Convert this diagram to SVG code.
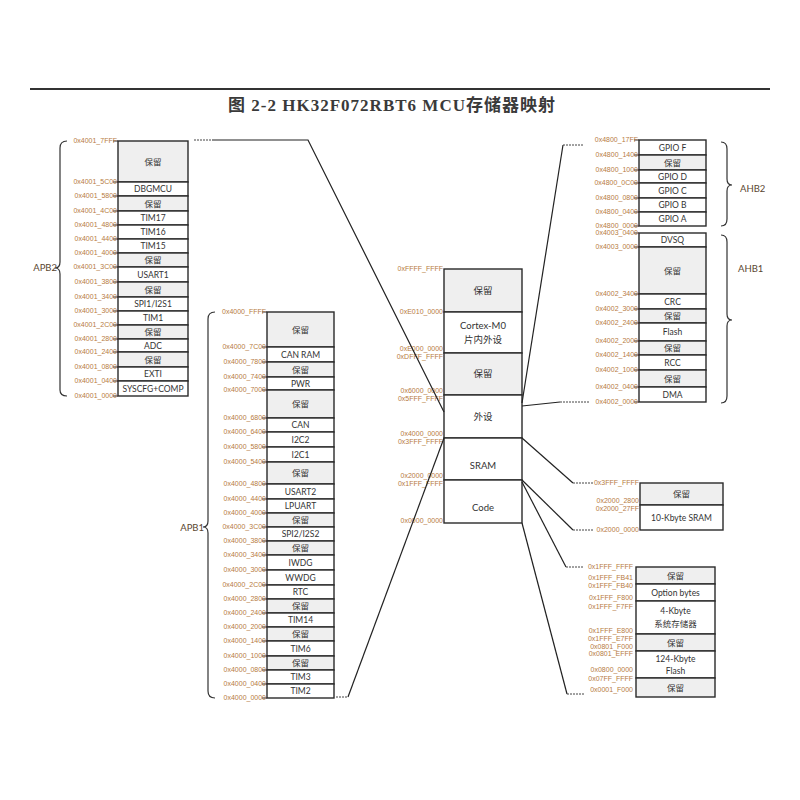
<svg xmlns="http://www.w3.org/2000/svg" width="800" height="800" viewBox="0 0 800 800">
<style>
.c{fill:#fff;stroke:#2a2a2a;stroke-width:1.4}
.r{fill:#efefef;stroke:#2a2a2a;stroke-width:1.4}
.t{font-family:Lato,"Noto Sans CJK SC",sans-serif;font-size:8.5px;fill:#333;text-anchor:middle}
.tb{font-family:Lato,"Noto Sans CJK SC",sans-serif;font-size:9.5px;fill:#333;text-anchor:middle}
.a{font-family:"Liberation Sans",sans-serif;font-size:7px;fill:#b77b3f;text-anchor:end}
.k{stroke:#2a2a2a;stroke-width:1}
.ln{stroke:#222;stroke-width:1.2;fill:none}
.ds{stroke:#444;stroke-width:1;stroke-dasharray:2 1;fill:none}
.br{stroke:#333;stroke-width:1.2;fill:none}
.g{font-family:Lato,"Noto Sans CJK SC",sans-serif;font-size:9.5px;fill:#5a4630}
</style>
<rect width="800" height="800" fill="#fff"/>
<line x1="30" y1="89" x2="770" y2="89" stroke="#333" stroke-width="2"/>
<text x="228" y="111" textLength="327" lengthAdjust="spacing" font-family="'Liberation Serif','Noto Sans CJK SC',serif" font-size="17" font-weight="bold" fill="#3a3a3a">图 2-2  HK32F072RBT6 MCU存储器映射</text>

<g id="apb2">
<path class="br" d="M67,141 Q60,141 60,148 L60,262 Q60,268 55,268 Q60,268 60,274 L60,390 Q60,396 67,396"/>
<text class="g" x="57" y="271" text-anchor="end">APB2</text>
<rect class="r" x="118" y="141" width="70" height="41"/><text class="t" x="153" y="165">保留</text>
<rect class="c" x="118" y="182" width="70" height="14"/><text class="t" x="153" y="192">DBGMCU</text>
<rect class="r" x="118" y="196" width="70" height="15"/><text class="t" x="153" y="206.5">保留</text>
<rect class="c" x="118" y="211" width="70" height="14"/><text class="t" x="153" y="221">TIM17</text>
<rect class="c" x="118" y="225" width="70" height="14"/><text class="t" x="153" y="235">TIM16</text>
<rect class="c" x="118" y="239" width="70" height="14"/><text class="t" x="153" y="249">TIM15</text>
<rect class="r" x="118" y="253" width="70" height="14"/><text class="t" x="153" y="263">保留</text>
<rect class="c" x="118" y="267" width="70" height="15"/><text class="t" x="153" y="277.5">USART1</text>
<rect class="r" x="118" y="282" width="70" height="15"/><text class="t" x="153" y="292.5">保留</text>
<rect class="c" x="118" y="297" width="70" height="14"/><text class="t" x="153" y="307">SPI1/I2S1</text>
<rect class="c" x="118" y="311" width="70" height="14"/><text class="t" x="153" y="321">TIM1</text>
<rect class="r" x="118" y="325" width="70" height="14"/><text class="t" x="153" y="335">保留</text>
<rect class="c" x="118" y="339" width="70" height="13"/><text class="t" x="153" y="348.5">ADC</text>
<rect class="r" x="118" y="352" width="70" height="15"/><text class="t" x="153" y="362.5">保留</text>
<rect class="c" x="118" y="367" width="70" height="14"/><text class="t" x="153" y="377">EXTI</text>
<rect class="c" x="118" y="381" width="70" height="15"/><text class="t" x="153" y="391.5">SYSCFG+COMP</text>
<g class="k"><path d="M113,141H118M113,182H118M113,196H118M113,211H118M113,225H118M113,239H118M113,253H118M113,267H118M113,282H118M113,297H118M113,311H118M113,325H118M113,339H118M113,352H118M113,367H118M113,381H118M113,396H118"/></g>
<text class="a" x="117" y="143.4">0x4001_7FFF</text>
<text class="a" x="117" y="184.4">0x4001_5C00</text>
<text class="a" x="117" y="198.4">0x4001_5800</text>
<text class="a" x="117" y="213.4">0x4001_4C00</text>
<text class="a" x="117" y="227.4">0x4001_4800</text>
<text class="a" x="117" y="241.4">0x4001_4400</text>
<text class="a" x="117" y="255.4">0x4001_4000</text>
<text class="a" x="117" y="269.4">0x4001_3C00</text>
<text class="a" x="117" y="284.4">0x4001_3800</text>
<text class="a" x="117" y="299.4">0x4001_3400</text>
<text class="a" x="117" y="313.4">0x4001_3000</text>
<text class="a" x="117" y="327.4">0x4001_2C00</text>
<text class="a" x="117" y="341.4">0x4001_2800</text>
<text class="a" x="117" y="354.4">0x4001_2400</text>
<text class="a" x="117" y="369.4">0x4001_0800</text>
<text class="a" x="117" y="383.4">0x4001_0400</text>
<text class="a" x="117" y="398.4">0x4001_0000</text>
</g>

<g id="apb1">
<path class="br" d="M215,312 Q208,312 208,319 L208,521 Q208,527 203,527 Q208,527 208,533 L208,691 Q208,698 215,698"/>
<text class="g" x="204" y="530.5" text-anchor="end">APB1</text>
<rect class="r" x="267" y="312" width="67" height="35"/><text class="t" x="300.5" y="332.5">保留</text>
<rect class="c" x="267" y="347" width="67" height="15"/><text class="t" x="300.5" y="357.5">CAN RAM</text>
<rect class="r" x="267" y="362" width="67" height="15"/><text class="t" x="300.5" y="372.5">保留</text>
<rect class="c" x="267" y="377" width="67" height="13"/><text class="t" x="300.5" y="386.5">PWR</text>
<rect class="r" x="267" y="390" width="67" height="28"/><text class="t" x="300.5" y="407">保留</text>
<rect class="c" x="267" y="418" width="67" height="14"/><text class="t" x="300.5" y="428">CAN</text>
<rect class="c" x="267" y="432" width="67" height="15"/><text class="t" x="300.5" y="442.5">I2C2</text>
<rect class="c" x="267" y="447" width="67" height="15"/><text class="t" x="300.5" y="457.5">I2C1</text>
<rect class="r" x="267" y="462" width="67" height="22"/><text class="t" x="300.5" y="476">保留</text>
<rect class="c" x="267" y="484" width="67" height="15"/><text class="t" x="300.5" y="494.5">USART2</text>
<rect class="c" x="267" y="499" width="67" height="14"/><text class="t" x="300.5" y="509">LPUART</text>
<rect class="r" x="267" y="513" width="67" height="14"/><text class="t" x="300.5" y="523">保留</text>
<rect class="c" x="267" y="527" width="67" height="14"/><text class="t" x="300.5" y="537">SPI2/I2S2</text>
<rect class="r" x="267" y="541" width="67" height="14"/><text class="t" x="300.5" y="551">保留</text>
<rect class="c" x="267" y="555" width="67" height="15"/><text class="t" x="300.5" y="565.5">IWDG</text>
<rect class="c" x="267" y="570" width="67" height="15"/><text class="t" x="300.5" y="580.5">WWDG</text>
<rect class="c" x="267" y="585" width="67" height="14"/><text class="t" x="300.5" y="595">RTC</text>
<rect class="r" x="267" y="599" width="67" height="14"/><text class="t" x="300.5" y="609">保留</text>
<rect class="c" x="267" y="613" width="67" height="14"/><text class="t" x="300.5" y="623">TIM14</text>
<rect class="r" x="267" y="627" width="67" height="14"/><text class="t" x="300.5" y="637">保留</text>
<rect class="c" x="267" y="641" width="67" height="15"/><text class="t" x="300.5" y="651.5">TIM6</text>
<rect class="r" x="267" y="656" width="67" height="14"/><text class="t" x="300.5" y="666">保留</text>
<rect class="c" x="267" y="670" width="67" height="14"/><text class="t" x="300.5" y="680">TIM3</text>
<rect class="c" x="267" y="684" width="67" height="14"/><text class="t" x="300.5" y="694">TIM2</text>
<g class="k"><path d="M262,312H267M262,347H267M262,362H267M262,377H267M262,390H267M262,418H267M262,432H267M262,447H267M262,462H267M262,484H267M262,499H267M262,513H267M262,527H267M262,541H267M262,555H267M262,570H267M262,585H267M262,599H267M262,613H267M262,627H267M262,641H267M262,656H267M262,670H267M262,684H267M262,698H267"/></g>
<text class="a" x="266" y="314.4">0x4000_FFFF</text>
<text class="a" x="266" y="349.4">0x4000_7C00</text>
<text class="a" x="266" y="364.4">0x4000_7800</text>
<text class="a" x="266" y="379.4">0x4000_7400</text>
<text class="a" x="266" y="392.4">0x4000_7000</text>
<text class="a" x="266" y="420.4">0x4000_6800</text>
<text class="a" x="266" y="434.4">0x4000_6400</text>
<text class="a" x="266" y="449.4">0x4000_5800</text>
<text class="a" x="266" y="464.4">0x4000_5400</text>
<text class="a" x="266" y="486.4">0x4000_4800</text>
<text class="a" x="266" y="501.4">0x4000_4400</text>
<text class="a" x="266" y="515.4">0x4000_4000</text>
<text class="a" x="266" y="529.4">0x4000_3C00</text>
<text class="a" x="266" y="543.4">0x4000_3800</text>
<text class="a" x="266" y="557.4">0x4000_3400</text>
<text class="a" x="266" y="572.4">0x4000_3000</text>
<text class="a" x="266" y="587.4">0x4000_2C00</text>
<text class="a" x="266" y="601.4">0x4000_2800</text>
<text class="a" x="266" y="615.4">0x4000_2400</text>
<text class="a" x="266" y="629.4">0x4000_2000</text>
<text class="a" x="266" y="643.4">0x4000_1400</text>
<text class="a" x="266" y="658.4">0x4000_1000</text>
<text class="a" x="266" y="672.4">0x4000_0800</text>
<text class="a" x="266" y="686.4">0x4000_0400</text>
<text class="a" x="266" y="700.4">0x4000_0000</text>
</g>

<g id="main">
<rect class="r" x="444" y="269" width="78" height="43"/><text class="tb" x="483" y="294">保留</text>
<rect class="c" x="444" y="312" width="78" height="41"/><text class="tb" x="483" y="329">Cortex-M0</text><text class="tb" x="483" y="343">片内外设</text>
<rect class="r" x="444" y="353" width="78" height="42"/><text class="tb" x="483" y="377">保留</text>
<rect class="c" x="444" y="395" width="78" height="43"/><text class="tb" x="483" y="420">外设</text>
<rect class="c" x="444" y="438" width="78" height="42"/><text class="tb" x="483" y="469">SRAM</text>
<rect class="c" x="444" y="480" width="78" height="43"/><text class="tb" x="483" y="511">Code</text>
<text class="a" x="443" y="271.4">0xFFFF_FFFF</text>
<text class="a" x="443" y="314.4">0xE010_0000</text>
<text class="a" x="443" y="351.4">0xE000_0000</text>
<text class="a" x="443" y="359.4">0xDFFF_FFFF</text>
<text class="a" x="443" y="393.4">0x6000_0000</text>
<text class="a" x="443" y="401.4">0x5FFF_FFFF</text>
<text class="a" x="443" y="436.4">0x4000_0000</text>
<text class="a" x="443" y="444.4">0x3FFF_FFFF</text>
<text class="a" x="443" y="478.4">0x2000_0000</text>
<text class="a" x="443" y="486.4">0x1FFF_FFFF</text>
<text class="a" x="443" y="523.4">0x0000_0000</text>
</g>

<g id="ahb2">
<path class="br" d="M721,142 Q727,142 727,149 L727,179 Q727,185 732,185 Q727,185 727,191 L727,219 Q727,226 721,226"/>
<text class="g" x="740" y="191.5">AHB2</text>
<rect class="c" x="639" y="140" width="67" height="15"/><text class="t" x="672.5" y="150.5">GPIO F</text>
<rect class="r" x="639" y="155" width="67" height="15"/><text class="t" x="672.5" y="165.5">保留</text>
<rect class="c" x="639" y="170" width="67" height="13"/><text class="t" x="672.5" y="179.5">GPIO D</text>
<rect class="c" x="639" y="183" width="67" height="15"/><text class="t" x="672.5" y="193.5">GPIO C</text>
<rect class="c" x="639" y="198" width="67" height="14"/><text class="t" x="672.5" y="208">GPIO B</text>
<rect class="c" x="639" y="212" width="67" height="14"/><text class="t" x="672.5" y="222">GPIO A</text>
<g class="k"><path d="M634,140H639M634,155H639M634,170H639M634,183H639M634,198H639M634,212H639M634,226H639"/></g>
<text class="a" x="638" y="142.4">0x4800_17FF</text>
<text class="a" x="638" y="157.4">0x4800_1400</text>
<text class="a" x="638" y="172.4">0x4800_1000</text>
<text class="a" x="638" y="185.4">0x4800_0C00</text>
<text class="a" x="638" y="200.4">0x4800_0800</text>
<text class="a" x="638" y="214.4">0x4800_0400</text>
<text class="a" x="638" y="228.4">0x4800_0000</text>
</g>

<g id="ahb1">
<path class="br" d="M721,235 Q727,235 727,242 L727,314 Q727,320 732,320 Q727,320 727,326 L727,396 Q727,403 721,403"/>
<text class="g" x="738" y="271.5">AHB1</text>
<rect class="c" x="639" y="233" width="67" height="14"/><text class="t" x="672.5" y="243">DVSQ</text>
<rect class="r" x="639" y="247" width="67" height="47"/><text class="t" x="672.5" y="273.5">保留</text>
<rect class="c" x="639" y="294" width="67" height="15"/><text class="t" x="672.5" y="304.5">CRC</text>
<rect class="r" x="639" y="309" width="67" height="14"/><text class="t" x="672.5" y="319">保留</text>
<rect class="c" x="639" y="323" width="67" height="18"/><text class="t" x="672.5" y="335">Flash</text>
<rect class="r" x="639" y="341" width="67" height="14"/><text class="t" x="672.5" y="351">保留</text>
<rect class="c" x="639" y="355" width="67" height="15"/><text class="t" x="672.5" y="365.5">RCC</text>
<rect class="r" x="639" y="370" width="67" height="17"/><text class="t" x="672.5" y="381.5">保留</text>
<rect class="c" x="639" y="387" width="67" height="15"/><text class="t" x="672.5" y="397.5">DMA</text>
<g class="k"><path d="M634,233H639M634,247H639M634,294H639M634,309H639M634,323H639M634,341H639M634,355H639M634,370H639M634,387H639M634,402H639"/></g>
<text class="a" x="638" y="235.4">0x4003_0400</text>
<text class="a" x="638" y="249.4">0x4003_0000</text>
<text class="a" x="638" y="296.4">0x4002_3400</text>
<text class="a" x="638" y="311.4">0x4002_3000</text>
<text class="a" x="638" y="325.4">0x4002_2400</text>
<text class="a" x="638" y="343.4">0x4002_2000</text>
<text class="a" x="638" y="357.4">0x4002_1400</text>
<text class="a" x="638" y="372.4">0x4002_1000</text>
<text class="a" x="638" y="389.4">0x4002_0400</text>
<text class="a" x="638" y="404.4">0x4002_0000</text>
</g>

<g id="sram">
<rect class="r" x="640" y="483" width="83" height="22"/><text class="t" x="681.5" y="497">保留</text>
<rect class="c" x="640" y="505" width="83" height="25"/><text class="t" x="681.5" y="520.5">10-Kbyte SRAM</text>
<text class="a" x="639" y="485.4">0x3FFF_FFFF</text>
<text class="a" x="639" y="503.4">0x2000_2800</text>
<text class="a" x="639" y="511.4">0x2000_27FF</text>
<text class="a" x="639" y="532.4">0x2000_0000</text>
</g>

<g id="flash">
<rect class="r" x="636" y="567" width="79" height="17"/><text class="t" x="675.5" y="578.5">保留</text>
<rect class="c" x="636" y="584" width="79" height="17"/><text class="t" x="675.5" y="595.5">Option bytes</text>
<rect class="c" x="636" y="601" width="79" height="33"/><text class="t" x="675.5" y="614">4-Kbyte</text><text class="t" x="675.5" y="627">系统存储器</text>
<rect class="r" x="636" y="634" width="79" height="17"/><text class="t" x="675.5" y="645.5">保留</text>
<rect class="c" x="636" y="651" width="79" height="27"/><text class="t" x="675.5" y="662">124-Kbyte</text><text class="t" x="675.5" y="674">Flash</text>
<rect class="r" x="636" y="678" width="79" height="19"/><text class="t" x="675.5" y="690.5">保留</text>
<text class="a" x="633" y="569.4">0x1FFF_FFFF</text>
<text class="a" x="633" y="580.4">0x1FFF_FB41</text>
<text class="a" x="633" y="588.4">0x1FFF_FB40</text>
<text class="a" x="633" y="600.4">0x1FFF_F800</text>
<text class="a" x="633" y="609.4">0x1FFF_F7FF</text>
<text class="a" x="633" y="633.4">0x1FFF_E800</text>
<text class="a" x="633" y="641.4">0x1FFF_E7FF</text>
<text class="a" x="633" y="649.4">0x0801_F000</text>
<text class="a" x="633" y="656.4">0x0801_EFFF</text>
<text class="a" x="633" y="672.4">0x0800_0000</text>
<text class="a" x="633" y="681.4">0x07FF_FFFF</text>
<text class="a" x="633" y="692.4">0x0001_F000</text>
</g>

<g id="connectors">
<path class="ds" d="M194,140H212"/>
<path class="ln" d="M212,140H308L444,412"/>
<path class="ds" d="M336,697H348"/>
<path class="ln" d="M348,697L444,438"/>
<path class="ln" d="M522,403L563,145"/>
<path class="ds" d="M563,145H584"/>
<path class="ln" d="M522,406L560,402"/>
<path class="ds" d="M560,402H590"/>
<path class="ln" d="M522,438L573,483"/>
<path class="ds" d="M573,483H594"/>
<path class="ln" d="M522,480L573,530"/>
<path class="ds" d="M573,530H594"/>
<path class="ln" d="M522,482L566,567"/>
<path class="ds" d="M566,567H584"/>
<path class="ln" d="M522,523L567,694"/>
<path class="ds" d="M567,694H584"/>
</g>
</svg>
